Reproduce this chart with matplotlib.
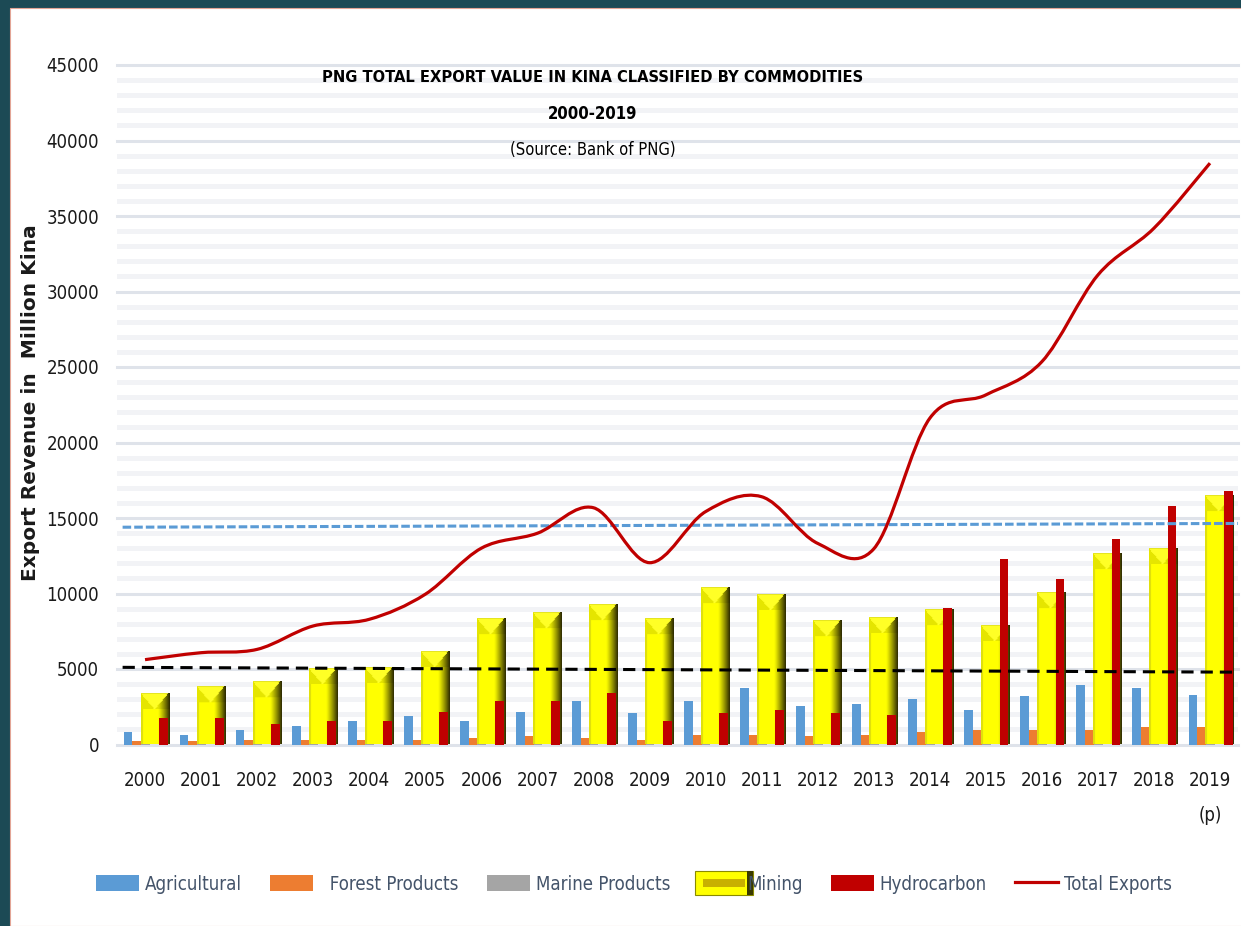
import numpy as np
import matplotlib
matplotlib.use('Agg')
import matplotlib.pyplot as plt
from matplotlib import font_manager
from matplotlib.patches import Rectangle, PathPatch
from matplotlib.lines import Line2D
from matplotlib.path import Path
from matplotlib.legend_handler import HandlerBase

# ---------------- data ----------------
years = [str(y) for y in range(2000, 2020)]
year_labels = years[:-1] + ['2019\n(p)']
agricultural = [800, 640, 930, 1240, 1550, 1860, 1550, 2170, 2890, 2080,
                2890, 3710, 2580, 2700, 3000, 2270, 3200, 3930, 3710, 3310]
forest = [220, 220, 310, 310, 310, 310, 440, 530, 440, 310,
          640, 640, 530, 640, 840, 950, 950, 950, 1150, 1150]
marine = [180, 210, 260, 310, 330, 390, 470, 520, 590, 480,
          560, 640, 600, 580, 610, 690, 760, 820, 870, 910]
mining = [3360, 3800, 4110, 5010, 5080, 6140, 8280, 8700, 9210, 8280,
          10340, 9920, 8170, 8400, 8900, 7870, 10030, 12590, 12970, 16450]
hydrocarbon = [1770, 1770, 1350, 1550, 1550, 2170, 2890, 2890, 3380, 1550,
               2080, 2270, 2080, 1970, 9010, 12280, 10960, 13630, 15770, 16790]
total = [5620, 6080, 6300, 7850, 8290, 9950, 13000, 13990, 15680, 12040,
         15420, 16410, 13320, 12950, 21600, 23150, 25350, 31090, 34190, 38500]
trend_low = [5110, 4790]     # black dashed trend line (start, end)
trend_high = [14390, 14640]  # blue dashed trend line (start, end)

title_lines = ['PNG TOTAL EXPORT VALUE IN KINA CLASSIFIED BY COMMODITIES',
               '2000-2019', '(Source: Bank of PNG)']
ylabel = 'Export Revenue in  Million Kina'
legend_labels = ['Agricultural', '  Forest Products', 'Marine Products',
                 'Mining', 'Hydrocarbon', 'Total Exports']

# ---------------- font choice (prefer a narrow face) ----------------
fl = font_manager.fontManager.ttflist
names = {f.name for f in fl}
if 'Liberation Sans Narrow' in names:
    FONT_KW = dict(family=['Liberation Sans Narrow', 'DejaVu Sans'])
elif any(f.name == 'DejaVu Sans' and str(f.stretch) in ('condensed', 'semi-condensed')
         for f in fl):
    FONT_KW = dict(family=['DejaVu Sans'], stretch='condensed')
else:
    FONT_KW = dict(family=['Liberation Sans', 'DejaVu Sans'])

W_PX, H_PX = 1241, 926
fig = plt.figure(figsize=(W_PX / 100, H_PX / 100), dpi=100)
renderer = fig.canvas.get_renderer()


def size_for(text, target_px, weight='normal', base=20.0, **kw):
    kws = dict(FONT_KW)
    kws.update(kw)
    t = fig.text(0, 0, text, fontsize=base, fontweight=weight, **kws)
    w = t.get_window_extent(renderer).width
    t.remove()
    return base * target_px / w


fig.patch.set_facecolor('#1c4a55')
fig.patches.append(Rectangle((10 / W_PX, 0), 1.0, (H_PX - 8) / H_PX,
                             transform=fig.transFigure, facecolor='white',
                             edgecolor='#e3a596', lw=0.8, zorder=-10))

ax_left, ax_right = 117, 1238
ax_top, ax_bot = 65, 744.5
ax = fig.add_axes([ax_left / W_PX, (H_PX - ax_bot) / H_PX,
                   (ax_right - ax_left) / W_PX, (ax_bot - ax_top) / H_PX])
ax.set_facecolor('none')
for s in ax.spines.values():
    s.set_visible(False)

tick_fs = min(size_for('45000', 53), 18)
leg_fs = min(size_for('Agricultural', 97), 18)

ymax = 45000
ax.set_ylim(0, ymax)
ax.set_xlim(-0.5, 19.5)
ax.set_yticks(np.arange(0, ymax + 1, 5000))
ax.set_yticks(np.arange(0, ymax + 1, 1000), minor=True)
ax.grid(which='minor', axis='y', color='#f2f3f6', lw=3.6, zorder=0)
ax.grid(which='major', axis='y', color='#dfe3ea', lw=2.2, zorder=0.5)
for gl in ax.yaxis.get_gridlines():
    gl.set_clip_on(False)
ax.set_axisbelow(True)
ax.tick_params(axis='both', which='both', length=0)
ax.tick_params(axis='y', pad=13)
ax.tick_params(axis='x', pad=19)
x = np.arange(len(years))
ax.set_xticks(x)
ax.set_xticklabels(year_labels)
for lab in ax.get_xticklabels() + ax.get_yticklabels():
    lab.set_fontproperties(font_manager.FontProperties(size=tick_fs, **FONT_KW))
    lab.set_color('#1a1a1a')
ax.get_xticklabels()[-1].set_linespacing(2.1)

# ---------------- bars ----------------
bw = 0.157
ax.bar(x - 2 * bw + 0.01, agricultural, bw, color='#5b9bd5', zorder=2)
ax.bar(x - bw + 0.01, forest, bw, color='#ed7d31', zorder=2)
ax.bar(x + 0.01, marine, bw, color='#a5a5a5', zorder=2)

# mining: shaded "3D" picture bars
px_per_unit = (ax_bot - ax_top) / ymax
mw = 0.5
mx0 = -0.08


def mining_image(H, W=28, bevel=16):
    yel = np.array([1.0, 1.0, 0.0])
    dark = np.array([0.17, 0.16, 0.0])
    u = (np.arange(W) + 0.5) / W
    t = np.clip((u - 0.6) / 0.4, 0, 1)[:, None] ** 1.1
    prof = yel * (1 - t) + dark * t
    prof[u < 0.07] = [0.88, 0.88, 0.05]
    img = np.tile(prof, (H, 1, 1))
    cx = 0.47 * W
    for r in range(min(bevel, H)):
        half = 0.47 * W * (1 - r / bevel)
        for c in range(W):
            if abs(c + 0.5 - cx) < half:
                img[r, c] = [1.0, 1.0, 0.15]
            elif c + 0.5 < cx:
                img[r, c] = [0.9, 0.9, 0.0]
            else:
                img[r, c] = prof[c] * 0.9
    img[0, :] = img[0, :] * 0.9
    return img


for i, m in enumerate(mining):
    H = max(int(round(m * px_per_unit)), 2)
    ax.imshow(mining_image(H), extent=(i + mx0, i + mx0 + mw, 0, m),
              aspect='auto', interpolation='bilinear', zorder=3)

ax.bar(x + 2 * bw + 0.01, hydrocarbon, bw, color='#c00000', zorder=4)
ax.set_xlim(-0.5, 19.5)
ax.set_ylim(0, ymax)

# ---------------- trend lines ----------------
tx = [-0.4, 19.5]
ax.plot(tx, trend_low, color='black', lw=2.2, dashes=(4, 2.3), zorder=5)
ax.plot(tx, trend_high, color='#5b9bd5', lw=2.2, dashes=(2.8, 1.0), zorder=5)

# ---------------- smoothed total line (Catmull-Rom as Bezier) ----------------
pts = np.column_stack([x, total]).astype(float)
verts = [pts[0]]
codes = [Path.MOVETO]
n = len(pts)
for i in range(n - 1):
    p0 = pts[i - 1] if i > 0 else pts[i]
    p1 = pts[i]
    p2 = pts[i + 1]
    p3 = pts[i + 2] if i + 2 < n else pts[i + 1]
    c1 = p1 + (p2 - p0) / 6.0
    c2 = p2 - (p3 - p1) / 6.0
    verts += [c1, c2, p2]
    codes += [Path.CURVE4] * 3
ax.add_patch(PathPatch(Path(verts, codes), facecolor='none',
                       edgecolor='#c00000', lw=2.3, zorder=6))

# ---------------- titles ----------------
cx_fig = 593 / W_PX
t1_fs = min(size_for(title_lines[0], 540, weight='bold'), 19)
t2_fs = min(size_for(title_lines[1], 90, weight='bold'), 19)
t3_fs = min(size_for(title_lines[2], 165), 19)
fig.text(cx_fig, 1 - 78 / H_PX, title_lines[0], ha='center', va='center',
         fontsize=t1_fs, fontweight='bold', color='black', **FONT_KW)
fig.text(cx_fig, 1 - 114 / H_PX, title_lines[1], ha='center', va='center',
         fontsize=t2_fs, fontweight='bold', color='black', **FONT_KW)
fig.text(cx_fig, 1 - 150 / H_PX, title_lines[2], ha='center', va='center',
         fontsize=t3_fs, color='black', **FONT_KW)

yl_fs = min(size_for(ylabel, 372, weight='bold', family=['DejaVu Sans']), 14.5)
fig.text(31 / W_PX, 1 - 403 / H_PX, ylabel, rotation=90, ha='center',
         va='center', fontsize=yl_fs, fontweight='bold', family='DejaVu Sans',
         color='#1a1a1a')

# ---------------- legend ----------------


class MiningHandler(HandlerBase):
    def create_artists(self, legend, orig_handle, xdescent, ydescent,
                       width, height, fontsize, trans):
        w = width * 1.35
        h = height * 1.55
        x0 = -xdescent - width * 0.08
        y0 = -ydescent - (h - height) / 2
        outer = Rectangle((x0, y0), w, h, facecolor='#ffff00',
                          edgecolor='#8a8a00', lw=0.8, transform=trans)
        band = Rectangle((x0 + w * 0.14, y0 + h * 0.32), w * 0.72, h * 0.36,
                         facecolor='#c8b000', edgecolor='none', transform=trans)
        right = Rectangle((x0 + w * 0.9, y0), w * 0.1, h,
                          facecolor='#3a3a00', edgecolor='none', transform=trans)
        return [outer, band, right]


handles = [Rectangle((0, 0), 1, 1, facecolor='#5b9bd5'),
           Rectangle((0, 0), 1, 1, facecolor='#ed7d31'),
           Rectangle((0, 0), 1, 1, facecolor='#a5a5a5'),
           Rectangle((0, 0), 1, 1, facecolor='#ffff00'),
           Rectangle((0, 0), 1, 1, facecolor='#c00000'),
           Line2D([], [], color='#c00000', lw=2.3)]
leg_px = leg_fs * 100 / 72
leg = fig.legend(handles, legend_labels, loc='center', ncol=6,
                 bbox_to_anchor=(634 / W_PX, 1 - 884 / H_PX), frameon=False,
                 handlelength=43 / leg_px, handleheight=17 / leg_px,
                 handletextpad=6 / leg_px, columnspacing=28 / leg_px,
                 handler_map={handles[3]: MiningHandler()},
                 prop=font_manager.FontProperties(size=leg_fs, **FONT_KW))
for t in leg.get_texts():
    t.set_color('#44546a')

fig.savefig('out.png', dpi=100, facecolor=fig.get_facecolor())
